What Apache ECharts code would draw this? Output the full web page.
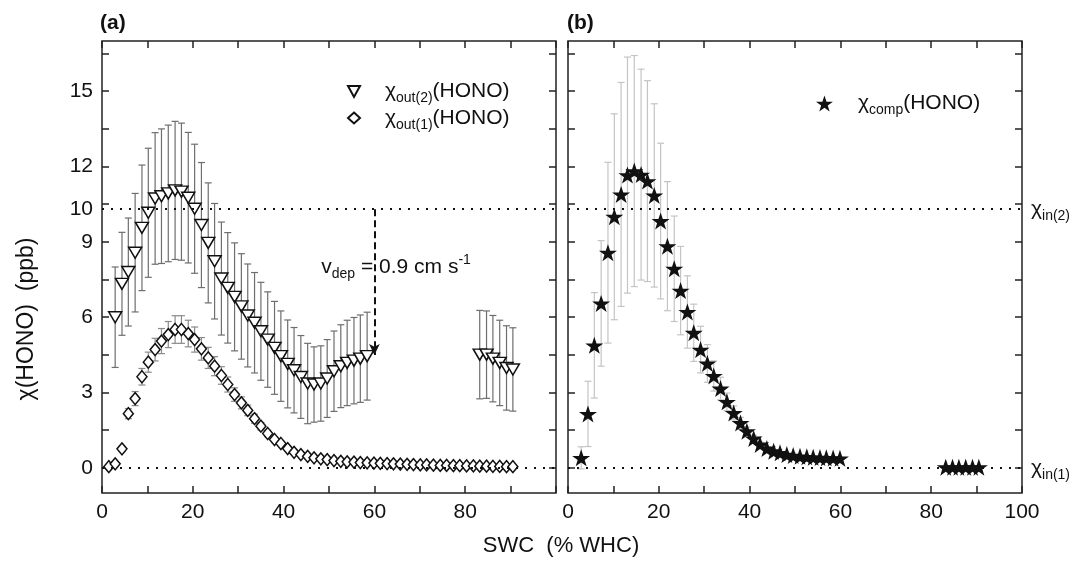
<!DOCTYPE html>
<html>
<head>
<meta charset="utf-8">
<title>HONO vs SWC</title>
<script src="https://cdn.jsdelivr.net/npm/echarts@6/dist/echarts.min.js"></script>
<style>
  html, body { margin: 0; padding: 0; background: #fff; }
  #chart { width: 1077px; height: 581px; }
</style>
</head>
<body>
<div id="chart"></div>
<script>
// panel (a): chi_out(2)(HONO), open down-triangles
const swcOut2 = [2.9, 4.4, 5.8, 7.3, 8.8, 10.2, 11.7, 13.1, 14.6, 16.1, 17.5, 19.0, 20.4, 21.9, 23.4,
  24.8, 26.3, 27.7, 29.2, 30.7, 32.1, 33.6, 35.0, 36.5, 38.0, 39.4, 40.9, 42.3, 43.8, 45.3,
  46.7, 48.2, 49.6, 51.1, 52.6, 54.0, 55.5, 56.9, 58.4,
  83.2, 84.7, 86.1, 87.6, 89.1, 90.5];
const hono2 = [6.0, 7.33, 7.8, 8.57, 9.56, 10.16, 10.73, 10.82, 10.93, 11.05, 11.0, 10.76, 10.32, 9.67, 8.96,
  8.23, 7.54, 7.17, 6.81, 6.43, 6.07, 5.78, 5.44, 5.11, 4.78, 4.45, 4.14, 3.89, 3.62, 3.36,
  3.32, 3.36, 3.56, 3.85, 4.05, 4.18, 4.27, 4.35, 4.45,
  4.51, 4.51, 4.35, 4.18, 3.98, 3.92];
const hono2Err = [2.0, 2.05, 2.15, 2.36, 2.5, 2.57, 2.62, 2.68, 2.72, 2.75, 2.73, 2.6, 2.57, 2.49, 2.39,
  2.3, 2.25, 2.2, 2.15, 2.1, 2.05, 2.0, 1.95, 1.9, 1.85, 1.8, 1.75, 1.7, 1.65, 1.6,
  1.5, 1.5, 1.55, 1.6, 1.65, 1.7, 1.72, 1.74, 1.75,
  1.76, 1.74, 1.72, 1.7, 1.68, 1.66];

// panel (a): chi_out(1)(HONO), open diamonds
const swcOut1 = [1.5, 2.9, 4.4, 5.8, 7.3, 8.8, 10.2, 11.7, 13.1, 14.6, 16.1, 17.5, 19.0, 20.4, 21.9,
  23.4, 24.8, 26.3, 27.7, 29.2, 30.7, 32.1, 33.6, 35.0, 36.5, 38.0, 39.4, 40.9, 42.3, 43.8,
  45.3, 46.7, 48.2, 49.6, 51.1, 52.6, 54.0, 55.5, 56.9, 58.4, 59.9, 61.3, 62.8, 64.2, 65.7,
  67.2, 68.6, 70.1, 71.5, 73.0, 74.5, 75.9, 77.4, 78.8, 80.3, 81.8, 83.2, 84.7, 86.1, 87.6,
  89.1, 90.5];
const hono1 = [0.05, 0.16, 0.76, 2.16, 2.76, 3.63, 4.21, 4.71, 5.05, 5.31, 5.51, 5.51, 5.35, 5.11, 4.74,
  4.38, 4.05, 3.68, 3.32, 2.92, 2.59, 2.29, 1.96, 1.66, 1.37, 1.13, 0.97, 0.77, 0.62, 0.53,
  0.46, 0.40, 0.36, 0.33, 0.29, 0.26, 0.24, 0.23, 0.21, 0.20, 0.19, 0.18, 0.17, 0.16, 0.15,
  0.14, 0.13, 0.12, 0.12, 0.11, 0.10, 0.10, 0.09, 0.09, 0.08, 0.08, 0.07, 0.07, 0.06, 0.06,
  0.05, 0.05];
const hono1Err = [0.05, 0.08, 0.1, 0.2, 0.28, 0.33, 0.4, 0.45, 0.5, 0.52, 0.55, 0.55, 0.53, 0.5, 0.45,
  0.42, 0.38, 0.35, 0.3, 0.27, 0.24, 0.21, 0.18, 0.15, 0.13, 0.11, 0.1, 0.08, 0.07, 0.06,
  0.05, 0.05, 0.05, 0.05, 0.05, 0.05, 0.05, 0.05, 0.05, 0.05, 0.05, 0.05, 0.05, 0.05, 0.05,
  0.05, 0.05, 0.05, 0.05, 0.05, 0.05, 0.05, 0.05, 0.05, 0.05, 0.05, 0.05, 0.05, 0.05, 0.05,
  0.05, 0.05];

// panel (b): chi_comp(HONO), filled stars
const swcComp = [2.9, 4.4, 5.8, 7.3, 8.8, 10.2, 11.7, 13.1, 14.6, 16.1, 17.5, 19.0, 20.4, 21.9, 23.4,
  24.8, 26.3, 27.7, 29.2, 30.7, 32.1, 33.6, 35.0, 36.5, 38.0, 39.4, 40.9, 42.3, 43.8, 45.3,
  46.7, 48.2, 49.6, 51.1, 52.6, 54.0, 55.5, 56.9, 58.4, 59.9,
  83.2, 84.7, 86.1, 87.6, 89.1, 90.5];
const honoComp = [0.40, 2.15, 4.88, 6.55, 8.57, 10.0, 10.89, 11.66, 11.82, 11.68, 11.42, 10.85, 9.83, 8.83, 7.93,
  7.06, 6.21, 5.38, 4.71, 4.16, 3.66, 3.16, 2.63, 2.19, 1.79, 1.46, 1.17, 0.93, 0.77, 0.66,
  0.60, 0.53, 0.49, 0.46, 0.44, 0.42, 0.41, 0.40, 0.39, 0.38,
  0.03, 0.03, 0.03, 0.03, 0.03, 0.03];
const honoCompErr = [0.44, 1.3, 2.1, 2.5, 3.6, 4.1, 4.46, 4.7, 4.6, 4.2, 4.0, 3.65, 3.1, 2.57, 2.1,
  1.76, 1.44, 1.14, 0.93, 0.75, 0.6, 0.45, 0.35, 0.28, 0.22, 0.17, 0.13, 0.1, 0.08, 0.06,
  0.05, 0.05, 0.05, 0.05, 0.05, 0.05, 0.05, 0.05, 0.05, 0.05,
  0.02, 0.02, 0.02, 0.02, 0.02, 0.02];

// axes
const yTicks = [0, 1.5, 3, 4.5, 6, 7.5, 9, 10.5, 12, 13.5, 15, 16.5];
const yLabels = [0, 3, 6, 9, 12, 15];
const xLabelsA = [0, 20, 40, 60, 80];
const xLabelsB = [0, 20, 40, 60, 80, 100];

// reference levels and deposition arrow
const chiIn2 = 10.3;
const chiIn1 = 0;
const arrowX = 60;
const arrowEnd = 4.5;
const vdepAt = [48.3, 8.0];

const FONT = "'Liberation Sans', Arial, sans-serif";
const chart = echarts.init(document.getElementById('chart'));

const star = 'path://M50,0L61.8,35.1L98.1,35.1L68.8,56.7L79.4,91L50,70L20.6,91L31.2,56.7L1.9,35.1L38.2,35.1Z';
const downTriangle = 'path://M0,0L12,0L6,11Z';

const subRich = {
  g: { width: 20 },
  c: { fontSize: 21, lineHeight: 28, fontFamily: FONT, color: '#111' },
  t: { fontSize: 21, lineHeight: 28, fontFamily: FONT, color: '#111' },
  s: { fontSize: 14, lineHeight: 14, verticalAlign: 'bottom', fontFamily: FONT, color: '#111' },
  p: { fontSize: 14, lineHeight: 14, verticalAlign: 'top', fontFamily: FONT, color: '#111' }
};

function bars(color, cap) {
  return function (params, api) {
    const x = api.value(0);
    const lo = api.coord([x, api.value(1)]);
    const hi = api.coord([x, api.value(2)]);
    const style = { stroke: color, lineWidth: 1.2 };
    return {
      type: 'group',
      children: [
        { type: 'line', shape: { x1: hi[0], y1: hi[1], x2: lo[0], y2: lo[1] }, style },
        { type: 'line', shape: { x1: hi[0] - cap, y1: hi[1], x2: hi[0] + cap, y2: hi[1] }, style },
        { type: 'line', shape: { x1: lo[0] - cap, y1: lo[1], x2: lo[0] + cap, y2: lo[1] }, style }
      ]
    };
  };
}

function barData(xs, ys, errs) {
  return xs.map((x, i) => [x, ys[i] - errs[i], ys[i] + errs[i]]);
}

function xAxis(gridIndex, position, labels) {
  return {
    type: 'value', gridIndex, position, min: 0, max: 100, interval: 10,
    axisLine: { show: false, onZero: false },
    axisTick: { inside: true, length: 7, lineStyle: { color: '#222', width: 1.5 } },
    axisLabel: labels ? {
      customValues: labels, margin: 9, fontSize: 21, fontFamily: FONT, color: '#111'
    } : { show: false },
    splitLine: { show: false }
  };
}

function yAxis(gridIndex, position, labels) {
  return {
    type: 'value', gridIndex, position, min: -1, max: 17,
    axisLine: { show: false, onZero: false },
    axisTick: { inside: true, length: 7, customValues: yTicks, lineStyle: { color: '#222', width: 1.5 } },
    axisLabel: labels ? {
      customValues: labels, margin: 9, fontSize: 21, fontFamily: FONT, color: '#111',
      formatter: v => String(Math.round(v))
    } : { show: false },
    splitLine: { show: false }
  };
}

const dotted = { type: [2, 7], width: 2, color: '#111' };

const option = {
  animation: false,
  backgroundColor: '#fff',
  title: [
    { text: '(a)', left: 100, top: 13, padding: 0, textStyle: { fontSize: 21, fontWeight: 'bold', fontFamily: FONT, color: '#111' } },
    { text: '(b)', left: 567, top: 13, padding: 0, textStyle: { fontSize: 21, fontWeight: 'bold', fontFamily: FONT, color: '#111' } }
  ],
  legend: [
    {
      data: [{ name: 'out2', icon: downTriangle }, { name: 'out1', icon: 'diamond' }],
      left: 347, top: 81, orient: 'vertical', padding: 0,
      itemWidth: 12, itemHeight: 11, itemGap: 2, selectedMode: false,
      formatter: n => n === 'out2' ? '{g|}{c|χ}{s|out(2)}{t|(HONO)}' : '{g|}{c|χ}{s|out(1)}{t|(HONO)}',
      textStyle: { fontSize: 21, fontFamily: FONT, color: '#111', rich: subRich }
    },
    {
      data: ['comp'], left: 816, top: 93, padding: 0,
      itemWidth: 17, itemHeight: 16, selectedMode: false,
      formatter: () => '{g|}{c|χ}{s|comp}{t|(HONO)}',
      textStyle: { fontSize: 21, fontFamily: FONT, color: '#111', rich: subRich }
    }
  ],
  grid: [
    { left: 102, top: 41, width: 454, height: 452, show: true, borderColor: '#222', borderWidth: 1.5, backgroundColor: '#fff' },
    { left: 568, top: 41, width: 454, height: 452, show: true, borderColor: '#222', borderWidth: 1.5, backgroundColor: '#fff' }
  ],
  xAxis: [
    xAxis(0, 'bottom', xLabelsA), xAxis(0, 'top', null),
    xAxis(1, 'bottom', xLabelsB), xAxis(1, 'top', null)
  ],
  yAxis: [
    Object.assign(yAxis(0, 'left', yLabels.concat([chiIn2])), {
      name: 'χ(HONO)  (ppb)', nameLocation: 'middle', nameGap: 64,
      nameTextStyle: { fontSize: 23, fontFamily: FONT, color: '#111', padding: [0, 104, 0, 0] }
    }),
    yAxis(0, 'right', null),
    yAxis(1, 'left', null),
    yAxis(1, 'right', null)
  ],
  graphic: [
    {
      type: 'text', x: 561, y: 546,
      style: { text: 'SWC  (% WHC)', font: '22px ' + FONT, fill: '#111', textAlign: 'center', textVerticalAlign: 'middle' }
    }
  ],
  series: [
    {
      type: 'custom', name: 'bars2', xAxisIndex: 0, yAxisIndex: 0, z: 2,
      renderItem: bars('#6e6e6e', 3.5), encode: { x: 0, y: [1, 2] },
      data: barData(swcOut2, hono2, hono2Err),
      markLine: {
        silent: true, symbol: ['none', 'none'], label: { show: false },
        lineStyle: dotted,
        data: [
          { yAxis: chiIn2 },
          { yAxis: chiIn1 },
          [
            { coord: [arrowX, chiIn2], symbol: 'none', lineStyle: { type: [7, 4], width: 2, color: '#111' } },
            { coord: [arrowX, arrowEnd], symbol: 'arrow', symbolSize: [8, 11] }
          ]
        ]
      },
      markPoint: {
        silent: true, symbol: 'circle', symbolSize: 0,
        data: [{
          coord: vdepAt,
          label: {
            show: true, position: 'right', distance: 0,
            formatter: '{c|v}{s|dep}{t| = 0.9 cm s}{p|-1}',
            rich: subRich
          }
        }]
      }
    },
    {
      type: 'custom', name: 'bars1', xAxisIndex: 0, yAxisIndex: 0, z: 2,
      renderItem: bars('#8a8a8a', 3.5), encode: { x: 0, y: [1, 2] },
      data: barData(swcOut1, hono1, hono1Err)
    },
    {
      type: 'scatter', name: 'out2', xAxisIndex: 0, yAxisIndex: 0, z: 4,
      symbol: 'triangle', symbolRotate: 180, symbolSize: [13, 11],
      itemStyle: { color: '#fff', borderColor: '#111', borderWidth: 1.5, opacity: 1 },
      data: swcOut2.map((x, i) => [x, hono2[i]])
    },
    {
      type: 'scatter', name: 'out1', xAxisIndex: 0, yAxisIndex: 0, z: 3,
      symbol: 'diamond', symbolSize: [10, 12],
      itemStyle: { color: '#fff', borderColor: '#111', borderWidth: 1.5, opacity: 1 },
      data: swcOut1.map((x, i) => [x, hono1[i]])
    },
    {
      type: 'custom', name: 'barsComp', xAxisIndex: 2, yAxisIndex: 2, z: 2,
      renderItem: bars('#c4c4c4', 3.5), encode: { x: 0, y: [1, 2] },
      data: barData(swcComp, honoComp, honoCompErr),
      markLine: {
        silent: true, symbol: ['none', 'none'], lineStyle: dotted,
        label: { show: true, position: 'end', distance: 9, rich: subRich },
        data: [
          { yAxis: chiIn2, label: { formatter: '{c|χ}{s|in(2)}' } },
          { yAxis: chiIn1, label: { formatter: '{c|χ}{s|in(1)}' } }
        ]
      }
    },
    {
      type: 'scatter', name: 'comp', xAxisIndex: 2, yAxisIndex: 2, z: 4,
      symbol: star, symbolSize: [18, 17],
      itemStyle: { color: '#111', opacity: 1 },
      data: swcComp.map((x, i) => [x, honoComp[i]])
    }
  ]
};

chart.setOption(option);
</script>
</body>
</html>
